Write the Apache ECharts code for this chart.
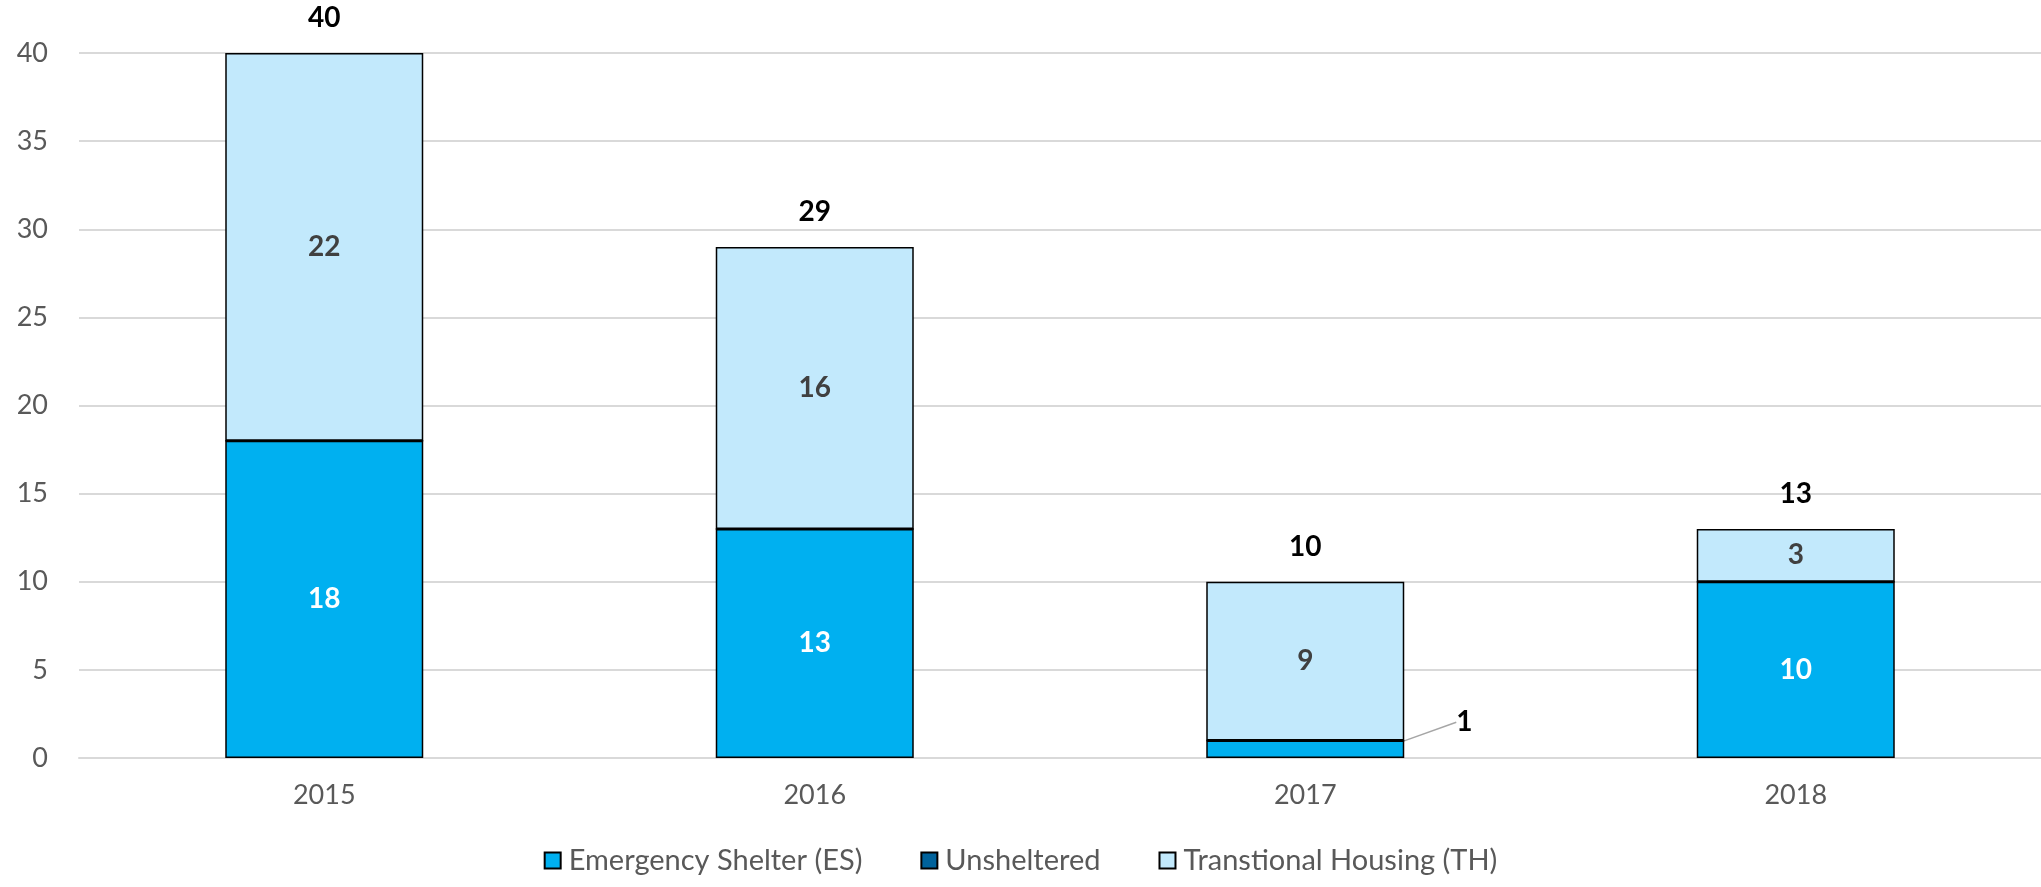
<!DOCTYPE html>
<html lang="en">
  <head>
    <meta charset="UTF-8" />
    <title>Shelter chart</title>
    <script src="https://cdn.jsdelivr.net/npm/echarts@6/dist/echarts.min.js"></script>
    <style>
      html, body { margin: 0; padding: 0; background: #fff; }
      #main { width: 2041px; height: 887px; }
    </style>
  </head>
  <body>
    <div id="main"></div>
    <script>
      // data
      const years = ["2015", "2016", "2017", "2018"];
      const emergencyShelter = [18, 13, 1, 10];
      const unsheltered = [0, 0, 0, 0];
      const transitionalHousing = [22, 16, 9, 3];
      const totals = [40, 29, 10, 13];
      const yTicks = { min: 0, max: 40, interval: 5 };

      const font = "Lato, 'Open Sans', sans-serif";
      const border = { borderColor: "#000", borderWidth: 1.5 };

      // the small "1" on 2017 is pushed out to the right with a leader line
      const esData = emergencyShelter.map((v, i) =>
        v < 3
          ? {
              value: v,
              label: { position: "right", color: "#000", distance: 0 },
              labelLine: { show: true, lineStyle: { color: "#A6A6A6", width: 1.5 } },
            }
          : v
      );

      const chart = echarts.init(document.getElementById("main"));
      chart.setOption({
        animation: false,
        textStyle: { fontFamily: font },
        grid: { left: 79, right: 0, top: 53, bottom: 129 },
        legend: {
          data: ["Emergency Shelter (ES)", "Unsheltered", "Transtional Housing (TH)"],
          bottom: 7,
          left: "center",
          icon: "rect",
          itemWidth: 16,
          itemHeight: 16,
          itemGap: 58,
          textStyle: { fontSize: 29, color: "#595959", fontFamily: font, padding: [0, 0, 0, 3] },
        },
        xAxis: {
          type: "category",
          data: years,
          axisTick: { show: false },
          axisLine: { lineStyle: { color: "#D9D9D9", width: 2 } },
          axisLabel: { fontSize: 27, color: "#595959", margin: 24 },
        },
        yAxis: {
          type: "value",
          min: yTicks.min,
          max: yTicks.max,
          interval: yTicks.interval,
          axisLine: { show: false },
          axisTick: { show: false },
          axisLabel: { fontSize: 27, color: "#595959", margin: 31 },
          splitLine: { lineStyle: { color: "#D9D9D9", width: 2 } },
        },
        series: [
          {
            name: "Emergency Shelter (ES)",
            type: "bar",
            stack: "all",
            barWidth: 198,
            data: esData,
            itemStyle: Object.assign({ color: "#00B0F0" }, border),
            label: { show: true, position: "inside", color: "#fff", fontSize: 28, fontWeight: "bold" },
            labelLayout: (p) => (emergencyShelter[p.dataIndex] < 3 ? { dx: 52, dy: -27 } : {}),
          },
          {
            name: "Unsheltered",
            type: "bar",
            stack: "all",
            barWidth: 198,
            data: unsheltered,
            itemStyle: Object.assign({ color: "#00629B" }, border),
            label: { show: false },
          },
          {
            name: "Transtional Housing (TH)",
            type: "bar",
            stack: "all",
            barWidth: 198,
            data: transitionalHousing,
            itemStyle: Object.assign({ color: "#C2E9FC" }, border),
            label: { show: true, position: "inside", color: "#404040", fontSize: 28, fontWeight: "bold" },
          },
          {
            name: "Total",
            type: "bar",
            barWidth: 198,
            barGap: "-100%",
            data: totals,
            z: 1,
            itemStyle: { color: "rgba(0,0,0,0)" },
            label: { show: true, position: "top", distance: 21, color: "#000", fontSize: 28, fontWeight: "bold" },
            silent: true,
          },
        ],
      });
    </script>
  </body>
</html>
